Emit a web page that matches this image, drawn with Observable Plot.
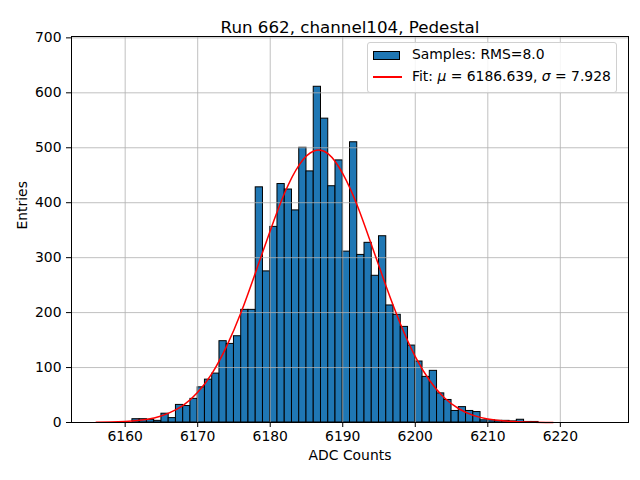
<!DOCTYPE html>
<html>
<head>
<meta charset="utf-8">
<script src="https://cdn.jsdelivr.net/npm/d3@7"></script>
<script src="https://cdn.jsdelivr.net/npm/@observablehq/plot@0.6"></script>
<style>
  body { margin: 0; background: #fff; }
  #wrap { position: relative; width: 640px; height: 480px; font-family: "DejaVu Sans", sans-serif; }
  #legend {
    position: absolute; left: 367px; top: 42px; width: 250px; height: 51px;
    border: 1px solid #d0d0d0; border-radius: 3px; background: rgba(255,255,255,0.85);
    font-size: 13.9px; color: #000; box-sizing: border-box;
  }
  .patch { position: absolute; left: 5px; width: 27px; height: 9px; background: #1f77b4; border: 1px solid #000; box-sizing: border-box; }
  .ln { position: absolute; left: 5px; width: 29px; height: 0; border-top: 2px solid #ff0000; }
  .lbl { position: absolute; left: 44px; white-space: nowrap; }
</style>
</head>
<body>
<div id="wrap"></div>
<script>
// ---- data ----
const title = "Run 662, channel104, Pedestal";
const xLabel = "ADC Counts";
const yLabel = "Entries";
const firstBin = 6161; // left edge of first bin, bin width 1
const counts = [6, 6, 5, 3, 16, 8, 32, 30, 43, 64, 78, 89, 148, 143, 157, 205, 205, 428, 275, 356,
  434, 424, 386, 500, 457, 611, 553, 430, 477, 311, 510, 305, 327, 267, 339, 213, 196, 174, 140, 111,
  83, 94, 53, 41, 21, 28, 21, 19, 4, 4, 3, 3, 2, 5, 1, 1];
const fitX = [6156, 6158, 6160, 6162, 6164, 6166, 6168, 6170, 6172, 6174, 6176, 6178, 6180, 6182, 6184,
  6186, 6188, 6190, 6192, 6194, 6196, 6198, 6200, 6202, 6204, 6206, 6208, 6210, 6212, 6214, 6216, 6218, 6219];
const fitY = [0.3, 0.7, 1.8, 4, 8, 17, 31, 55, 90, 139, 201, 274, 349, 418, 469,
  494, 489, 453, 395, 322, 247, 178, 120, 76, 45, 25, 13, 6.5, 3, 1.3, 0.5, 0.2, 0.1];
const xTicks = [6160, 6170, 6180, 6190, 6200, 6210, 6220];
const yTicks = [0, 100, 200, 300, 400, 500, 600, 700];
const legendSamples = "Samples: RMS=8.0";

const bins = counts.map((c, i) => ({x1: firstBin + i, x2: firstBin + i + 1, y: c}));
const fit = fitX.map((x, i) => ({x, y: fitY[i]}));

const chart = Plot.plot({
  width: 640,
  height: 480,
  marginLeft: 71,
  marginRight: 12,
  marginTop: 36,
  marginBottom: 58,
  style: {fontFamily: "DejaVu Sans, sans-serif", fontSize: "13.9px", color: "#000", background: "#fff"},
  x: {domain: [6152.6, 6229.4]},
  y: {domain: [0, 702.5]},
  marks: [
    Plot.rectY(bins, {x1: "x1", x2: "x2", y: "y", fill: "#1f77b4", stroke: "#000", strokeWidth: 1}),
    Plot.gridX(xTicks, {stroke: "#b0b0b0", strokeOpacity: 1, strokeWidth: 0.8}),
    Plot.gridY(yTicks, {stroke: "#b0b0b0", strokeOpacity: 1, strokeWidth: 0.8}),
    Plot.line(fit, {x: "x", y: "y", stroke: "#ff0000", strokeWidth: 1.5, curve: "natural"}),
    Plot.frame({stroke: "#000", strokeWidth: 1}),
    Plot.axisX(xTicks, {tickSize: 5, tickPadding: 4, label: null, fontSize: 13.9, tickFormat: d => String(d)}),
    Plot.axisY(yTicks, {tickSize: 5, tickPadding: 5, label: null, fontSize: 13.9, tickFormat: d => String(d)}),
    Plot.text([title], {frameAnchor: "top", dy: -15, fontSize: 16.7, text: d => d}),
    Plot.text([xLabel], {frameAnchor: "bottom", dy: 37, fontSize: 13.9, text: d => d}),
    Plot.text([yLabel], {frameAnchor: "left", dx: -49, rotate: -90, fontSize: 13.9, text: d => d})
  ]
});
const wrap = document.getElementById("wrap");
wrap.appendChild(chart);

const legend = document.createElement("div");
legend.id = "legend";
legend.innerHTML = `
  <div class="patch" style="top:8px"></div>
  <div class="lbl" style="top:3px">${legendSamples}</div>
  <div class="ln" style="top:33px"></div>
  <div class="lbl" style="top:25px">Fit: <i>μ</i> = 6186.639, <i>σ</i> = 7.928</div>`;
wrap.appendChild(legend);
</script>
</body>
</html>
